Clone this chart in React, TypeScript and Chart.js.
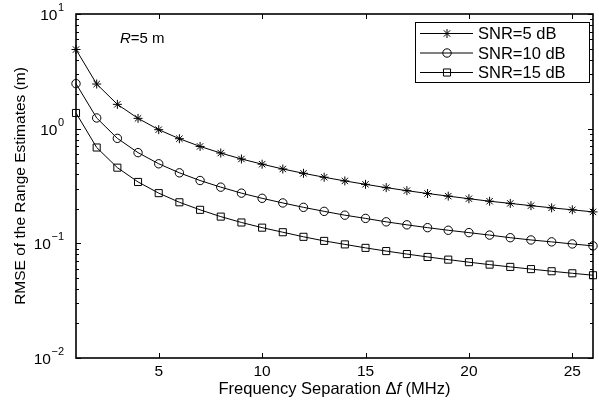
import React, { useEffect, useRef } from 'react';
import { Chart, registerables } from 'chart.js';

Chart.register(...registerables);

const freqSep = [1, 2, 3, 4, 5, 6, 7, 8, 9, 10, 11, 12, 13, 14, 15, 16, 17, 18, 19, 20, 21, 22, 23, 24, 25, 26];
const snr5 = [4.9, 2.45, 1.63, 1.23, 0.98, 0.817, 0.70, 0.613, 0.544, 0.49, 0.445, 0.408, 0.377, 0.35, 0.327, 0.306, 0.288, 0.272, 0.258, 0.245, 0.233, 0.223, 0.213, 0.204, 0.196, 0.188];
const snr10 = [2.47, 1.24, 0.823, 0.618, 0.494, 0.412, 0.353, 0.309, 0.274, 0.247, 0.225, 0.206, 0.19, 0.176, 0.165, 0.154, 0.145, 0.137, 0.13, 0.124, 0.118, 0.112, 0.107, 0.103, 0.0988, 0.095];
const snr15 = [1.37, 0.685, 0.457, 0.343, 0.274, 0.228, 0.196, 0.171, 0.152, 0.137, 0.125, 0.114, 0.105, 0.0979, 0.0913, 0.0856, 0.0806, 0.0761, 0.0721, 0.0685, 0.0652, 0.0623, 0.0596, 0.0571, 0.0548, 0.0527];
const seriesLabels = ['SNR=5 dB', 'SNR=10 dB', 'SNR=15 dB'];
const seriesMarkers = ['star', 'circle', 'rect'];
const markerRadii = [4.5, 4.2, 5];
const xTickValues = [5, 10, 15, 20, 25];
const yTickExponents = [-2, -1, 0, 1];
const xTitleParts = [
  { text: 'Frequency Separation Δ', italic: false },
  { text: 'f', italic: true },
  { text: ' (MHz)', italic: false },
];
const yTitle = 'RMSE of the Range Estimates (m)';
const noteParts = [
  { text: 'R', italic: true },
  { text: '=5 m', italic: false },
];

const FONT = '"Liberation Sans", Arial, Helvetica, sans-serif';

function font(size: number, italic = false) {
  return `${italic ? 'italic ' : ''}${size}px ${FONT}`;
}

function drawMarker(ctx: CanvasRenderingContext2D, kind: string, x: number, y: number, r: number) {
  ctx.beginPath();
  if (kind === 'circle') {
    ctx.arc(x, y, r, 0, Math.PI * 2);
  } else if (kind === 'rect') {
    const s = r * Math.SQRT1_2;
    ctx.rect(x - s, y - s, 2 * s, 2 * s);
  } else {
    for (let i = 0; i < 4; i++) {
      const a = (i * Math.PI) / 4;
      ctx.moveTo(x + Math.cos(a) * r, y + Math.sin(a) * r);
      ctx.lineTo(x - Math.cos(a) * r, y - Math.sin(a) * r);
    }
  }
  ctx.stroke();
}

function drawParts(ctx: CanvasRenderingContext2D, parts: { text: string; italic: boolean }[], size: number, x: number, y: number, align: 'left' | 'center') {
  let total = 0;
  for (const p of parts) {
    ctx.font = font(size, p.italic);
    total += ctx.measureText(p.text).width;
  }
  let cx = align === 'center' ? x - total / 2 : x;
  ctx.textAlign = 'left';
  for (const p of parts) {
    ctx.font = font(size, p.italic);
    ctx.fillText(p.text, cx, y);
    cx += ctx.measureText(p.text).width;
  }
}

const decorPlugin = {
  id: 'decor',
  afterDraw(chart: any) {
    const { ctx, chartArea: a, scales } = chart;
    const xs = scales.x;
    const ys = scales.y;
    ctx.save();
    ctx.strokeStyle = '#000';
    ctx.fillStyle = '#000';
    ctx.lineWidth = 1;

    // ticks
    ctx.beginPath();
    for (const t of xTickValues) {
      const px = Math.round(xs.getPixelForValue(t)) + 0.5;
      ctx.moveTo(px, a.bottom);
      ctx.lineTo(px, a.bottom - 5);
      ctx.moveTo(px, a.top);
      ctx.lineTo(px, a.top + 5);
    }
    for (const e of yTickExponents) {
      for (let m = 1; m <= 9; m++) {
        if (e === yTickExponents[yTickExponents.length - 1] && m > 1) break;
        const py = Math.round(ys.getPixelForValue(m * Math.pow(10, e))) + 0.5;
        const len = m === 1 ? 5 : 3;
        ctx.moveTo(a.left, py);
        ctx.lineTo(a.left + len, py);
        ctx.moveTo(a.right, py);
        ctx.lineTo(a.right - len, py);
      }
    }
    ctx.stroke();

    // frame
    ctx.lineWidth = 1.6;
    ctx.strokeRect(a.left, a.top, a.right - a.left, a.bottom - a.top);

    // x tick labels
    ctx.font = font(15.5);
    ctx.textAlign = 'center';
    ctx.textBaseline = 'alphabetic';
    for (const t of xTickValues) {
      ctx.fillText(String(t), xs.getPixelForValue(t), a.bottom + 18);
    }

    // y tick labels
    for (const e of yTickExponents) {
      const py = ys.getPixelForValue(Math.pow(10, e));
      const expStr = e < 0 ? '−' + Math.abs(e) : String(e);
      ctx.font = font(11);
      ctx.textAlign = 'right';
      const right = a.left - 12;
      ctx.fillText(expStr, right, py - 3);
      const ew = ctx.measureText(expStr).width;
      ctx.font = font(15.5);
      ctx.fillText('10', right - ew - 0.5, py + 6);
    }

    // x title
    ctx.textBaseline = 'alphabetic';
    drawParts(ctx, xTitleParts, 16.5, (a.left + a.right) / 2, 394, 'center');

    // y title
    ctx.save();
    ctx.translate(25, (a.top + a.bottom) / 2);
    ctx.rotate(-Math.PI / 2);
    ctx.font = font(15.5);
    ctx.textAlign = 'center';
    ctx.fillText(yTitle, 0, 0);
    ctx.restore();

    // annotation
    drawParts(ctx, noteParts, 15, 120, 43, 'left');

    // legend
    const lx = 415, ly = 22, lw = 174, lh = 60;
    ctx.fillStyle = '#fff';
    ctx.fillRect(lx, ly, lw, lh);
    ctx.lineWidth = 1;
    ctx.strokeStyle = '#000';
    ctx.strokeRect(lx + 0.5, ly + 0.5, lw, lh);
    ctx.fillStyle = '#000';
    const rows = [33, 52.5, 72];
    seriesLabels.forEach((lab, i) => {
      const ry = rows[i] + 0.5;
      ctx.beginPath();
      ctx.moveTo(420, ry);
      ctx.lineTo(473, ry);
      ctx.stroke();
      drawMarker(ctx, seriesMarkers[i], 447, ry, markerRadii[i]);
      ctx.font = font(16.5);
      ctx.textAlign = 'left';
      ctx.textBaseline = 'middle';
      ctx.fillText(lab, 478, ry + 1);
    });
    ctx.restore();
  },
};

export default function App() {
  const ref = useRef<HTMLCanvasElement | null>(null);
  useEffect(() => {
    document.body.style.margin = '0';
    const canvas = ref.current;
    if (!canvas) return;
    const mk = (i: number, data: number[]) => ({
      label: seriesLabels[i],
      data: freqSep.map((x, j) => ({ x, y: data[j] })),
      borderColor: '#000',
      borderWidth: 1,
      pointStyle: seriesMarkers[i],
      pointRadius: markerRadii[i],
      pointBorderWidth: 1,
      pointBorderColor: '#000',
      pointBackgroundColor: 'rgba(0,0,0,0)',
      fill: false,
      tension: 0,
      clip: false as any,
    });
    const chart = new Chart(canvas, {
      type: 'line',
      data: {
        datasets: [mk(0, snr5), mk(1, snr10), mk(2, snr15)],
      },
      options: {
        responsive: false,
        animation: false,
        devicePixelRatio: 1,
        layout: { padding: { left: 76, right: 3, top: 14, bottom: 45 } },
        plugins: { legend: { display: false }, tooltip: { enabled: false } },
        scales: {
          x: { type: 'linear', min: 1, max: 26, display: false },
          y: { type: 'logarithmic', min: 0.01, max: 10, display: false },
        },
      },
      plugins: [decorPlugin],
    });
    return () => chart.destroy();
  }, []);
  return (
    <div style={{ position: 'fixed', left: 0, top: 0, width: 599, height: 403, background: '#fff' }}>
      <canvas ref={ref} width={599} height={403} style={{ display: 'block' }} />
    </div>
  );
}
